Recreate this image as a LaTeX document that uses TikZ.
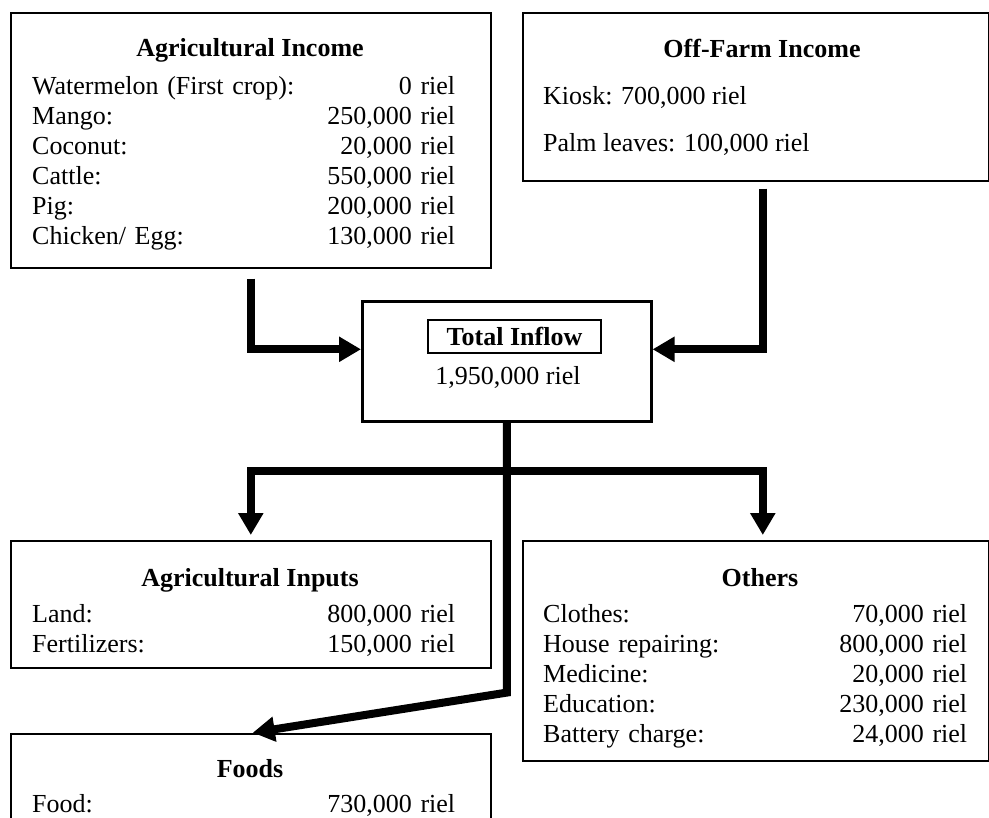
\documentclass[tikz,border=0pt]{standalone}
\usepackage{fontspec}
\setmainfont{Liberation Serif}
\usetikzlibrary{arrows.meta}
\setlength{\parindent}{0pt}

\begin{document}
\begin{tikzpicture}[x=1pt,y=-1pt]
  \tikzset{every node/.style={font=\fontsize{26}{30}\selectfont}}
  \tikzset{box/.style={draw,line width=1.6pt,inner sep=0pt,anchor=north west}}
  \tikzset{head/.style={anchor=base,inner sep=0pt,font=\fontsize{26}{30}\selectfont\bfseries}}
  \tikzset{item/.style={anchor=base west,inner sep=0pt,text width=423pt}}
  \tikzset{flow/.style={line width=8pt,-{Triangle[length=22pt,width=24pt]}}}
  \useasboundingbox (0,0) rectangle (989,818);
  % income boxes
  \node[box,minimum width=480pt,minimum height=255pt] (agInc) at (10,12) {};
  \node[head] (agIncHead) at (250,57) {Agricultural Income};
  \node[item] (agInc1) at (32,95) {Watermelon (First crop):\hfill 0 riel};
  \node[item] (agInc2) at (32,125) {Mango:\hfill 250,000 riel};
  \node[item] (agInc3) at (32,155) {Coconut:\hfill 20,000 riel};
  \node[item] (agInc4) at (32,185) {Cattle:\hfill 550,000 riel};
  \node[item] (agInc5) at (32,215) {Pig:\hfill 200,000 riel};
  \node[item] (agInc6) at (32,245) {Chicken/ Egg:\hfill 130,000 riel};
  \node[box,minimum width=466pt,minimum height=168pt] (offFarm) at (522,12) {};
  \node[head] (offFarmHead) at (762,58) {Off-Farm Income};
  \node[anchor=base west,inner sep=0pt] (offFarm1) at (543,105) {Kiosk: 700,000 riel};
  \node[anchor=base west,inner sep=0pt] (offFarm2) at (543,152) {Palm leaves: 100,000 riel};
  % total
  \node[box,line width=2.6pt,minimum width=289pt,minimum height=120pt] (inflow) at (361,300) {};
  \node[draw,line width=1.6pt,minimum width=173pt,minimum height=33pt,inner sep=0pt,font=\fontsize{26}{30}\selectfont\bfseries] (inflowHead) at (514.5,336.5) {Total Inflow};
  \node[anchor=base,inner sep=0pt] (inflowSum) at (508,385) {1,950,000 riel};
  % spending boxes
  \node[box,minimum width=480pt,minimum height=127pt] (agInp) at (10,540) {};
  \node[head] (agInpHead) at (250,586) {Agricultural Inputs};
  \node[item] (agInp1) at (32,622) {Land:\hfill 800,000 riel};
  \node[item] (agInp2) at (32,652) {Fertilizers:\hfill 150,000 riel};
  \node[box,minimum width=466pt,minimum height=220pt] (others) at (522,540) {};
  \node[head] (othersHead) at (760,586) {Others};
  \node[item,text width=424pt] (others1) at (543,622) {Clothes:\hfill 70,000 riel};
  \node[item,text width=424pt] (others2) at (543,652) {House repairing:\hfill 800,000 riel};
  \node[item,text width=424pt] (others3) at (543,682) {Medicine:\hfill 20,000 riel};
  \node[item,text width=424pt] (others4) at (543,712) {Education:\hfill 230,000 riel};
  \node[item,text width=424pt] (others5) at (543,742) {Battery charge:\hfill 24,000 riel};
  \node[box,minimum width=480pt,minimum height=95pt] (foods) at (10,733) {};
  \node[head] (foodsHead) at (250,777) {Foods};
  \node[item] (foods1) at (32,812) {Food:\hfill 730,000 riel};
  % flows
  \coordinate (split) at ([yshift=-48pt]inflow.south);
  \coordinate (bend) at ([yshift=-270pt]inflow.south);
  \draw[flow] ([yshift=-10pt]agInc.south) |- ([yshift=12pt]inflow.west);
  \draw[flow] ([xshift=7pt,yshift=-7pt]offFarm.south) |- ([yshift=12pt]inflow.east);
  \draw[flow,shorten >=5pt] (split) -| (agInp.north);
  \draw[flow,shorten >=5pt] (split) -| ([xshift=7pt]others.north);
  \draw[flow,shorten >=2pt] (inflow.south) -- (bend) -- (foods.north);
\end{tikzpicture}
\end{document}
